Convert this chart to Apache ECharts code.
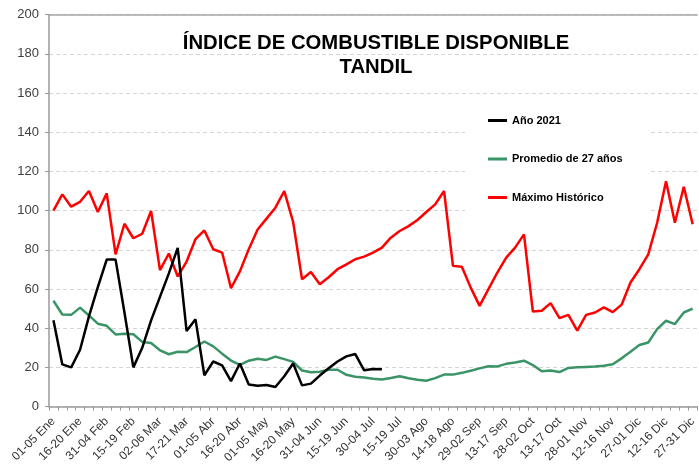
<!DOCTYPE html>
<html>
<head>
<meta charset="utf-8">
<script src="https://cdn.jsdelivr.net/npm/echarts@6/dist/echarts.min.js"></script>
<style>
  html, body { margin: 0; padding: 0; background: #fff; }
  #chart { width: 699px; height: 466px; }
</style>
</head>
<body>
<div id="chart"></div>
<script>
// Pentads of the year (5-day periods)
const categories = [
  '01-05 Ene','06-10 Ene','11-15 Ene','16-20 Ene','21-25 Ene','26-30 Ene',
  '31-04 Feb','05-09 Feb','10-14 Feb','15-19 Feb','20-24 Feb','25-01 Mar',
  '02-06 Mar','07-11 Mar','12-16 Mar','17-21 Mar','22-26 Mar','27-31 Mar',
  '01-05 Abr','06-10 Abr','11-15 Abr','16-20 Abr','21-25 Abr','26-30 Abr',
  '01-05 May','06-10 May','11-15 May','16-20 May','21-25 May','26-30 May',
  '31-04 Jun','05-09 Jun','10-14 Jun','15-19 Jun','20-24 Jun','25-29 Jun',
  '30-04 Jul','05-09 Jul','10-14 Jul','15-19 Jul','20-24 Jul','25-29 Jul',
  '30-03 Ago','04-08 Ago','09-13 Ago','14-18 Ago','19-23 Ago','24-28 Ago',
  '29-02 Sep','03-07 Sep','08-12 Sep','13-17 Sep','18-22 Sep','23-27 Sep',
  '28-02 Oct','03-07 Oct','08-12 Oct','13-17 Oct','18-22 Oct','23-27 Oct',
  '28-01 Nov','02-06 Nov','07-11 Nov','12-16 Nov','17-21 Nov','22-26 Nov',
  '27-01 Dic','02-06 Dic','07-11 Dic','12-16 Dic','17-21 Dic','22-26 Dic',
  '27-31 Dic'
];

// Año 2021 (available up to early July)
const anio2021 = [
  44, 21.5, 20, 29, 46, 61, 75, 75, 48, 20, 30, 44, 56, 68, 81, 38.5, 44.5, 16,
  23, 21, 13, 22, 11.3, 10.6, 11, 10, 15.5, 22, 10.8, 11.7, 15.8, 19.5, 23, 25.6,
  26.8, 18.5, 19.2, 19
];

// Promedio de 27 años
const promedio = [
  54, 47, 46.8, 50.5, 46.5, 42.3, 41.2, 36.8, 37.2, 36.9, 33, 32.4, 28.7, 26.7,
  28, 27.8, 30.4, 33.2, 30.7, 27, 23.5, 21.3, 23.4, 24.4, 23.8, 25.5, 24.2, 22.8,
  18.4, 17.5, 17.8, 18.8, 18.8, 16.2, 15.2, 14.8, 14.2, 13.8, 14.6, 15.5, 14.4,
  13.7, 13.2, 14.5, 16.3, 16.3, 17.2, 18.3, 19.5, 20.6, 20.5, 21.8, 22.5, 23.4,
  21.2, 18, 18.4, 17.6, 19.7, 20, 20.2, 20.4, 20.8, 21.6, 24.6, 28, 31.4, 32.7,
  39.5, 43.8, 42.1, 48, 50
];

// Máximo Histórico
const maximo = [
  100, 108.3, 102, 104.5, 110, 99.3, 108.8, 77.7, 93.3, 85.9, 88.2, 99.8, 69.6,
  78.1, 66.4, 74, 85.4, 89.9, 80.3, 78.6, 60.4, 69, 80.3, 90.4, 95.9, 101.5, 110,
  94.2, 65, 68.7, 62.4, 66, 70.1, 72.6, 75.2, 76.5, 78.6, 81.1, 86.2, 89.6, 92.1,
  95.2, 99.3, 103.2, 110, 71.8, 71.3, 60.7, 51.4, 59.9, 68.4, 76, 81.1, 87.9,
  48.5, 48.9, 52.8, 45.1, 46.8, 38.7, 46.8, 48, 50.6, 48.2, 52, 63.3, 70.1, 77.7,
  93.8, 115, 93.8, 112.2, 93
];

const seriesNames = ['Año 2021', 'Promedio de 27 años', 'Máximo Histórico'];
const yTicks = { min: 0, max: 200, step: 20 };

const FONT = '"Liberation Sans", Arial, Helvetica, sans-serif';
const AXIS_GREY = '#9a9a9a';

const chart = echarts.init(document.getElementById('chart'), null, { renderer: 'canvas' });

chart.setOption({
  animation: false,
  backgroundColor: '#ffffff',
  textStyle: { fontFamily: FONT },
  title: {
    text: 'ÍNDICE DE COMBUSTIBLE DISPONIBLE\nTANDIL',
    left: 376,
    top: 32,
    textAlign: 'center',
    padding: 0,
    textStyle: {
      fontFamily: FONT,
      fontSize: 20.3,
      fontWeight: 'bold',
      color: '#000',
      lineHeight: 23.5,
      align: 'center'
    }
  },
  legend: {
    orient: 'vertical',
    left: 465,
    top: 101,
    padding: [13, 27, 16, 23],
    backgroundColor: '#ffffff',
    itemGap: 25.5,
    itemWidth: 19,
    itemHeight: 3,
    itemTextGap: 5,
    icon: 'rect',
    data: seriesNames,
    textStyle: {
      fontFamily: FONT,
      fontSize: 11,
      fontWeight: 'bold',
      color: '#000',
      lineHeight: 13
    }
  },
  grid: {
    left: 49,
    right: -2,
    top: 14.7,
    bottom: 58.3,
    show: false,
    containLabel: false
  },
  xAxis: [
    {
      type: 'category',
      data: categories,
      boundaryGap: true,
      axisLine: { show: true, lineStyle: { color: AXIS_GREY, width: 1.5 } },
      axisTick: { show: true, interval: 0, length: 4, lineStyle: { color: AXIS_GREY, width: 1 } },
      axisLabel: {
        interval: 2,
        rotate: 45,
        margin: 13,
        fontFamily: FONT,
        fontSize: 12,
        color: '#333'
      },
      splitLine: { show: false }
    },
    {
      // plain frame line along the top of the plot
      type: 'category',
      position: 'top',
      data: categories,
      axisLine: { show: true, lineStyle: { color: '#a6a6a6', width: 1.5 } },
      axisTick: { show: false },
      axisLabel: { show: false },
      splitLine: { show: false }
    }
  ],
  yAxis: {
    type: 'value',
    min: yTicks.min,
    max: yTicks.max,
    interval: yTicks.step,
    axisLine: { show: true, lineStyle: { color: AXIS_GREY, width: 1.5 } },
    axisTick: { show: true, length: 4, lineStyle: { color: AXIS_GREY } },
    axisLabel: {
      margin: 10,
      fontFamily: FONT,
      fontSize: 13,
      color: '#404040'
    },
    splitLine: {
      show: true,
      lineStyle: { color: '#d4d4d4', width: 1, type: [4, 3] }
    }
  },
  series: [
    {
      name: seriesNames[0],
      type: 'line',
      data: anio2021,
      symbol: 'none',
      color: '#000000',
      lineStyle: { color: '#000000', width: 2.5 },
      z: 4
    },
    {
      name: seriesNames[1],
      type: 'line',
      data: promedio,
      symbol: 'none',
      color: '#3a9468',
      lineStyle: { color: '#3a9468', width: 2.5 },
      z: 3
    },
    {
      name: seriesNames[2],
      type: 'line',
      data: maximo,
      symbol: 'none',
      color: '#ff0000',
      lineStyle: { color: '#ff0000', width: 2.5 },
      z: 3
    }
  ]
});
</script>
</body>
</html>
